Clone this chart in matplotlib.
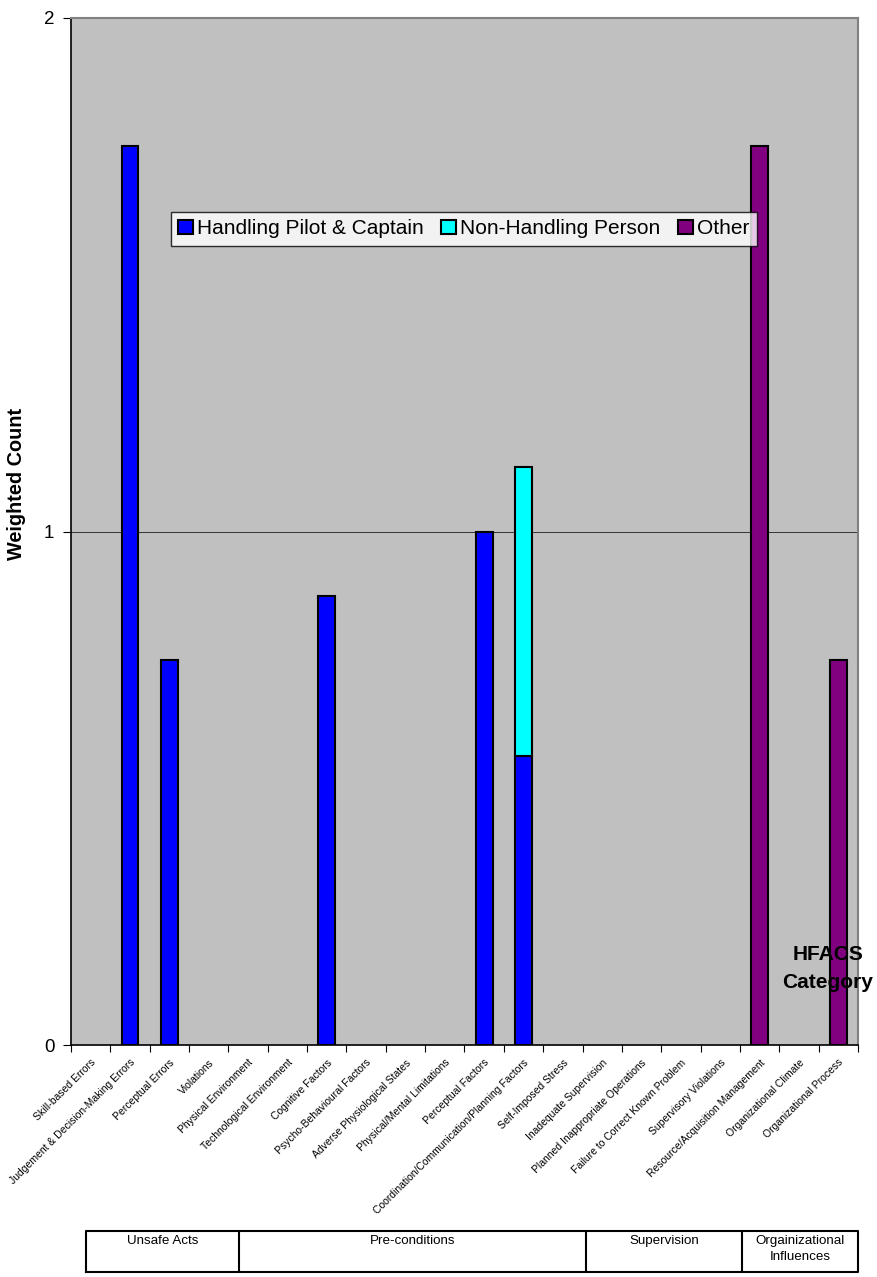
import numpy as np
import matplotlib.pyplot as plt
from matplotlib.patches import Patch

plt.rcParams['font.family'] = ['Liberation Sans', 'DejaVu Sans']

# HFACS categories along the x axis
categories = ['Skill-based Errors', 'Judgement & Decision-Making Errors', 'Perceptual Errors',
              'Violations', 'Physical Environment', 'Technological Environment',
              'Cognitive Factors', 'Psycho-Behavioural Factors', 'Adverse Physiological States',
              'Physical/Mental Limitations', 'Perceptual Factors',
              'Coordination/Communication/Planning Factors', 'Self-Imposed Stress',
              'Inadequate Supervision', 'Planned Inappropriate Operations',
              'Failure to Correct Known Problem', 'Supervisory Violations',
              'Resource/Acquisition Management', 'Organizational Climate',
              'Organizational Process']

# weighted counts per series (stacked)
handling = [0, 1.75, 0.75, 0, 0, 0, 0.875, 0, 0, 0, 1.0, 0.5625, 0, 0, 0, 0, 0, 0, 0, 0]
non_handling = [0, 0, 0, 0, 0, 0, 0, 0, 0, 0, 0, 0.5625, 0, 0, 0, 0, 0, 0, 0, 0]
other = [0, 0, 0, 0, 0, 0, 0, 0, 0, 0, 0, 0, 0, 0, 0, 0, 0, 1.75, 0, 0.75]
series_names = ['Handling Pilot & Captain', 'Non-Handling Person', 'Other']

# groups shown in the table under the chart
groups = ['Unsafe Acts', 'Pre-conditions', 'Supervision', 'Orgainizational\nInfluences']

W, H = 878, 1277
fig = plt.figure(figsize=(W / 100, H / 100), dpi=100)
ax = fig.add_axes([71 / W, 1 - 1045 / H, (858 - 71) / W, (1045 - 18) / H])
ax.set_facecolor('#C0C0C0')

x = np.arange(len(categories))
h = np.array(handling)
n = np.array(non_handling)
o = np.array(other)
bw = 0.43
colors = ['#0000FF', '#00FFFF', '#800080']

def draw(vals, bottom, col):
    m = vals > 0
    ax.bar(x[m], vals[m], bw, bottom=bottom[m], color=col, edgecolor='black', linewidth=1.5, zorder=3)

draw(h, np.zeros(len(x)), colors[0])
draw(n, h, colors[1])
draw(o, h + n, colors[2])

ax.set_xlim(-0.5, len(categories) - 0.5)
ax.set_ylim(0, 2)
ax.set_yticks([0, 1, 2])
ax.set_yticklabels(['0', '1', '2'], fontsize=13.5)
ax.axhline(1, color='#333333', linewidth=0.7, zorder=1)

ax.set_xticks(x)
ax.set_xticklabels(categories, rotation=45, ha='right', rotation_mode='anchor', fontsize=7.5)
ax.tick_params(axis='x', length=0, pad=9)
ax.set_xticks(np.arange(len(categories) + 1) - 0.5, minor=True)
ax.tick_params(axis='x', which='minor', length=5, width=0.8, direction='out')
ax.tick_params(axis='y', length=6, width=0.8, direction='out', pad=6)

for s in ['top', 'right']:
    ax.spines[s].set_color('#808080')
    ax.spines[s].set_linewidth(1.5)
ax.spines['left'].set_linewidth(1.2)
ax.spines['bottom'].set_linewidth(1.2)

fig.text(17 / W, 1 - 484 / H, 'Weighted Count', rotation=90, fontsize=14.3, fontweight='bold',
         ha='center', va='center')
fig.text(828 / W, 1 - 968 / H, 'HFACS\nCategory', fontsize=15, fontweight='bold',
         ha='center', va='center', linespacing=1.6)

handles = [Patch(facecolor=c, edgecolor='black', linewidth=1.5) for c in colors]
leg = fig.legend(handles, series_names, loc='upper left', bbox_to_anchor=(171 / W, 1 - 212 / H),
                 ncol=3, fontsize=15, frameon=True, fancybox=False, edgecolor='black',
                 handlelength=0.7, handleheight=0.7, handletextpad=0.2, columnspacing=0.85,
                 borderpad=0.35, borderaxespad=0)
leg.get_frame().set_linewidth(1.0)

# group table
tab = fig.add_axes([86 / W, 1 - 1272 / H, (858 - 86) / W, (1272 - 1231) / H])
col_w = [153, 347, 156, 116]
edges = np.concatenate([[0], np.cumsum(col_w)])
tab.set_xlim(0, edges[-1])
tab.set_ylim(0, 1)
tab.axis('off')
tab.plot([0, edges[-1], edges[-1], 0, 0], [0, 0, 1, 1, 0], color='black', lw=1.5, clip_on=False)
for e in edges[1:-1]:
    tab.plot([e, e], [0, 1], color='black', lw=1.5)
for i, g in enumerate(groups):
    tab.text((edges[i] + edges[i + 1]) / 2, 0.9, g, ha='center', va='top', fontsize=9.6,
             linespacing=1.45)

fig.savefig('out.png', dpi=100)
